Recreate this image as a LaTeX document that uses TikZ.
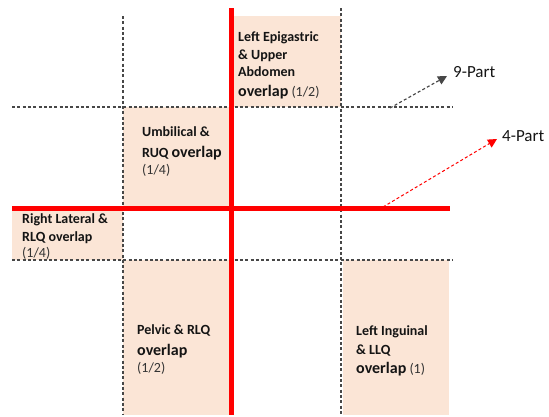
\documentclass[tikz,border=0pt]{standalone}
\usepackage{fontspec}
\setmainfont{Carlito}
\usetikzlibrary{arrows.meta}
\definecolor{peach}{HTML}{FBE5D6}
\definecolor{gridgray}{HTML}{474747}
\definecolor{ink}{HTML}{141414}
\definecolor{fracgray}{HTML}{333333}
\tikzset{
  region/.style={fill=peach, draw=none},
  gridline/.style={draw=gridgray, line width=1.15pt, dash pattern=on 3pt off 2.3pt},
  quadline/.style={draw=red, line width=5pt},
  lbl/.style={anchor=base west, inner sep=0pt, text=ink, font=\fontsize{14}{17}\selectfont\bfseries},
  partlbl/.style={anchor=west, inner sep=0pt, text=ink, font=\fontsize{17}{20}\selectfont},
}
\newcommand{\bigov}{{\fontsize{16}{18}\selectfont overlap}}
\newcommand{\frc}[1]{{\mdseries\color{fracgray}#1}}
\begin{document}
\begin{tikzpicture}[x=1pt, y=-1pt]
  \useasboundingbox (0,0) rectangle (549,416);

  % shaded overlap regions
  \fill[region] (231,16) rectangle (341,107);
  \fill[region] (123,107) rectangle (231,208);
  \fill[region] (12,208) rectangle (123,260);
  \fill[region] (123,260) rectangle (231,415);
  \fill[region] (343,260) rectangle (449,415);

  % nine-part grid (dashed)
  \draw[gridline] (123,16) -- (123,415);
  \draw[gridline] (341,8) -- (341,415);
  \draw[gridline] (12,107) -- (452,107);
  \draw[gridline] (12,260) -- (452,260);

  % four-part quadrant lines
  \draw[quadline] (231.5,8) -- (231.5,415);
  \draw[quadline] (12,208.5) -- (450,208.5);

  % legend arrows
  \coordinate (nineFrom) at (390,108);
  \coordinate (nineTo) at (447,76);
  \coordinate (fourFrom) at (383,207);
  \coordinate (fourTo) at (497,139);
  \draw[gridline, -{Triangle[length=9pt,width=9pt]}] (nineFrom) -- (nineTo);
  \draw[draw=red, line width=1pt, dash pattern=on 3pt off 2.3pt, -{Triangle[length=9pt,width=9pt]}] (fourFrom) -- (fourTo);
  \node[partlbl] (nine) at (453,72) {9-Part};
  \node[partlbl] (four) at (502,136) {4-Part};

  % region labels
  \node[lbl] (epiA) at (238,41.5) {Left Epigastric};
  \node[lbl] (epiB) at (238,59) {\& Upper};
  \node[lbl] (epiC) at (238,76.5) {Abdomen};
  \node[lbl] (epiD) at (238,96) {\bigov\ \frc{(1/2)}};

  \node[lbl] (umbA) at (142,136) {Umbilical \&};
  \node[lbl] (umbB) at (142,157) {RUQ \bigov};
  \node[lbl] (umbC) at (142,174.5) {\frc{(1/4)}};

  \node[lbl] (latA) at (22,223.5) {Right Lateral \&};
  \node[lbl] (latB) at (22,241) {RLQ overlap};
  \node[lbl] (latC) at (22,257.5) {\frc{(1/4)}};

  \node[lbl] (pelA) at (137,334.5) {Pelvic \& RLQ};
  \node[lbl] (pelB) at (137,355) {\bigov};
  \node[lbl] (pelC) at (137,372.5) {\frc{(1/2)}};

  \node[lbl] (ingA) at (356,335.5) {Left Inguinal};
  \node[lbl] (ingB) at (356,354.5) {\& LLQ};
  \node[lbl] (ingC) at (356,373) {\bigov\ \frc{(1)}};
\end{tikzpicture}
\end{document}
